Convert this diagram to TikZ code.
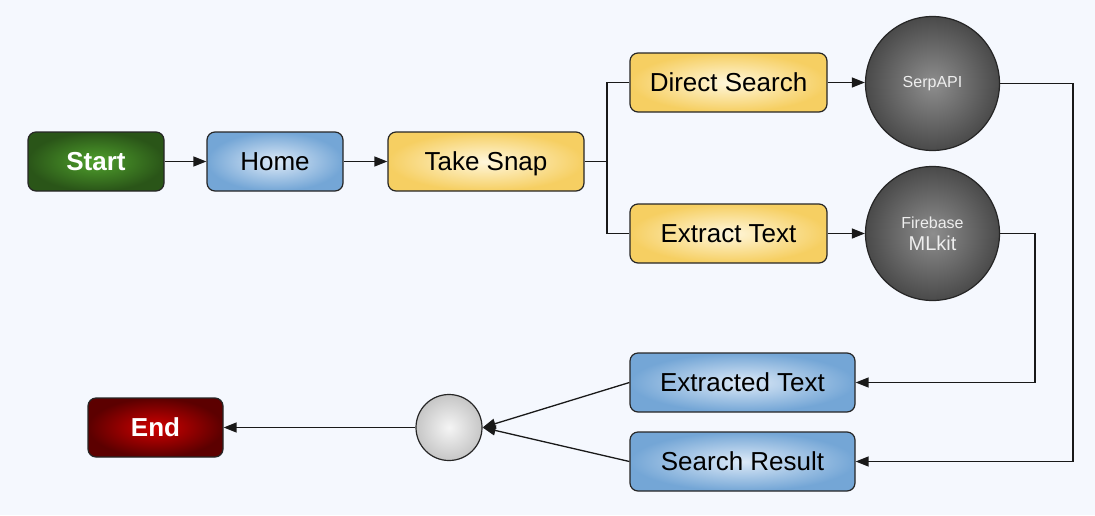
\documentclass[tikz,border=0pt]{standalone}
\usepackage{fontspec}
\setmainfont{Liberation Sans}
\usetikzlibrary{arrows.meta,shadings}
\definecolor{bg}{HTML}{F5F8FE}
\definecolor{greenout}{HTML}{2A5518}
\definecolor{greenin}{HTML}{4FA02C}
\definecolor{blueout}{HTML}{74A6D6}
\definecolor{bluein}{HTML}{DCE9F7}
\definecolor{yelout}{HTML}{F6CF62}
\definecolor{yelin}{HTML}{FFF7DC}
\definecolor{greyout}{HTML}{4A4A4A}
\definecolor{greyin}{HTML}{8E8E8E}
\definecolor{lgout}{HTML}{C6C6C6}
\definecolor{lgin}{HTML}{F5F5F5}
\definecolor{redout}{HTML}{5C0000}
\definecolor{redin}{HTML}{D00000}
\definecolor{ltext}{HTML}{EEEEEE}
\begin{document}
\begin{tikzpicture}[x=1pt,y=-1pt,
  box/.style={rectangle, rounded corners=8pt, draw=black!85, line width=1.2pt, inner sep=0pt,
    minimum height=59pt, text height=19pt, text depth=1pt, font=\fontsize{26}{30}\selectfont},
  greenbox/.style={box, inner color=greenin, outer color=greenout, text=white, font=\fontsize{26}{30}\selectfont\bfseries},
  redbox/.style={box, inner color=redin, outer color=redout, text=white, font=\fontsize{26}{30}\selectfont\bfseries},
  bluebox/.style={box, inner color=bluein, outer color=blueout},
  yelbox/.style={box, inner color=yelin, outer color=yelout},
  greycirc/.style={circle, draw=black!85, line width=1.2pt, minimum size=134pt, inner sep=0pt,
    inner color=greyin, outer color=greyout, text=ltext, align=center},
  lgcirc/.style={circle, draw=black!85, line width=1.2pt, minimum size=66pt, inner sep=0pt,
    inner color=lgin, outer color=lgout},
  conn/.style={line width=1.3pt, draw=black!90},
  arr/.style={conn, -{Triangle[length=13pt,width=10pt]}}]
\useasboundingbox (0,0) rectangle (1095,515);
\fill[bg] (0,0) rectangle (1095,515);

\node[greenbox, minimum width=136pt] (start) at (96,161.5) {Start};
\node[bluebox, minimum width=136pt] (home) at (275,161.5) {Home};
\node[yelbox, minimum width=196pt] (snap) at (486,161.5) {Take Snap};
\node[yelbox, minimum width=197pt] (ds) at (728.5,82.5) {Direct Search};
\node[yelbox, minimum width=197pt] (et) at (728.5,233.5) {Extract Text};
\node[greycirc] (serp) at (932.5,83.5) {\fontsize{16}{19}\selectfont SerpAPI};
\node[greycirc] (fb) at (932.5,233.5) {{\fontsize{16}{19}\selectfont Firebase}\\[6pt]{\fontsize{20}{22}\selectfont MLkit}};
\node[bluebox, minimum width=225pt] (ext) at (742.5,382.5) {Extracted Text};
\node[bluebox, minimum width=225pt] (sr) at (742.5,461.5) {Search Result};
\node[lgcirc] (mid) at (449,427.5) {};
\node[redbox, minimum width=135pt] (end) at (155.5,427.5) {End};

\coordinate (br) at (607,161.5);
\coordinate (c1) at (1073,0);
\coordinate (c2) at (1035,0);

\draw[arr] (start) -- (home);
\draw[arr] (home) -- (snap);
\draw[conn] (snap.east) -- (br) |- (ds.west);
\draw[conn] (br) |- (et.west);
\draw[arr] (ds.east) -- (serp.west |- ds.east);
\draw[arr] (et) -- (fb);
\draw[arr] (serp.east) -| (c1 |- sr.east) -- (sr.east);
\draw[arr] (fb.east) -| (c2 |- ext.east) -- (ext.east);
\draw[arr] (ext.west) -- (mid.east);
\draw[arr] (sr.west) -- (mid.east);
\draw[arr] (mid.west) -- (end.east);
\end{tikzpicture}
\end{document}
